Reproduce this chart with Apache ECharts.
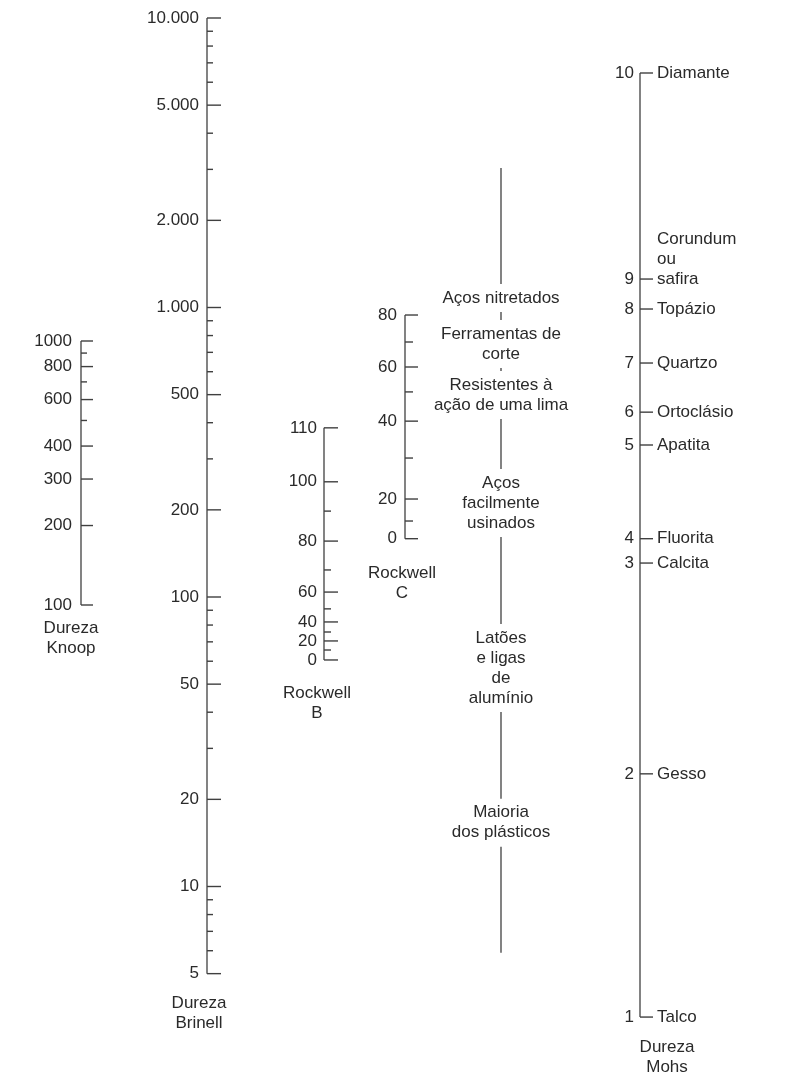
<!DOCTYPE html>
<html>
<head>
<meta charset="utf-8">
<script src="https://cdn.jsdelivr.net/npm/echarts@6/dist/echarts.min.js"></script>
<style>html,body{margin:0;padding:0;background:#fff}#c{width:792px;height:1075px}</style>
</head>
<body>
<div id="c"></div>
<script>
// ---------------- DATA ----------------
// Brinell (reference log scale)
const brinellMajor = [10000, 5000, 2000, 1000, 500, 200, 100, 50, 20, 10, 5];
const brinellMajorLabels = ['10.000', '5.000', '2.000', '1.000', '500', '200', '100', '50', '20', '10', '5'];
const brinellMinor = [9000, 8000, 7000, 6000, 4000, 3000, 900, 800, 700, 600, 400, 300, 90, 80, 70, 60, 40, 30, 9, 8, 7, 6];
const brinellExtent = [5, 10000];

// Knoop (own log scale)
const knoopMajor = [1000, 800, 600, 400, 300, 200, 100];
const knoopMinor = [900, 700, 500];
const knoopExtent = [100, 1000];

// Rockwell B: tick value and Brinell-equivalent position
const rockBMajor = [110, 100, 80, 60, 40, 20, 0];
const rockBMajorHB = [384, 250, 156, 104, 82, 70.5, 60.6];
const rockBMinor = [90, 70, 50, 30, 10];
const rockBMinorHB = [198, 124, 91, 75.7, 65.6];

// Rockwell C
const rockCMajor = [80, 60, 40, 20, 0];
const rockCMajorHB = [942, 623, 405, 218, 159];
const rockCMinor = [70, 50, 30, 10];
const rockCMinorHB = [760, 511, 302, 183];

// Mohs: value, mineral, Brinell-equivalent position
const mohsValues = [10, 9, 8, 7, 6, 5, 4, 3, 2, 1];
const mohsMinerals = ['Diamante', 'Corundum\nou\nsafira', 'Topázio', 'Quartzo', 'Ortoclásio', 'Apatita', 'Fluorita', 'Calcita', 'Gesso', 'Talco'];
const mohsHB = [6457, 1254, 988, 643, 435, 335, 159, 131, 24.5, 3.54];

// Materials (Brinell-equivalent positions)
const materialNames = ['Aços nitretados', 'Ferramentas de\ncorte', 'Resistentes à\nação de uma lima', 'Aços\nfacilmente\nusinados', 'Latões\ne ligas\nde\nalumínio', 'Maioria\ndos plásticos'];
const materialHB = [1078, 748, 499, 211, 56.9, 16.6];
const materialExtent = [5.9, 3034];

// ---------------- LAYOUT ----------------
const FONT = "'Liberation Sans', Arial, Helvetica, sans-serif";
const TXT = '#2a2a2a';
const LINE = '#404040';
const DEC = 289.5;       // px per decade of the shared Brinell scale
const TOP = 18;          // y of 10000
const AX_MIN = 3, AX_MAX = 10000;
const AX_H = Math.log10(AX_MAX / AX_MIN) * DEC;
const COLS = { brinell: 207, rockB: 324, rockC: 405, mat: 501, mohs: 640 };
const KNOOP = { left: 81, top: 341, height: 264 };

const grids = [], xAxes = [], yAxes = [], series = [];

function addGrid(left, top, height, yMin, yMax) {
  const i = grids.length;
  grids.push({ left: left, top: top, width: 60, height: height, containLabel: false });
  xAxes.push({ type: 'value', gridIndex: i, min: 0, max: 1, show: false });
  yAxes.push({ type: 'log', logBase: 10, gridIndex: i, min: yMin, max: yMax, show: false });
  return i;
}

function axisLine(gi, extent) {
  series.push({
    type: 'line', xAxisIndex: gi, yAxisIndex: gi, symbol: 'none', silent: true,
    data: [[0, extent[0]], [0, extent[1]]],
    lineStyle: { color: LINE, width: 1.3, opacity: 1 }, z: 1
  });
}

function ticks(gi, positions, len) {
  series.push({
    type: 'scatter', xAxisIndex: gi, yAxisIndex: gi, silent: true,
    symbol: 'rect', symbolSize: [len, 1.4], symbolOffset: [len / 2, 0],
    itemStyle: { color: LINE, opacity: 1 },
    data: positions.map(v => [0, v]), z: 2
  });
}

function labels(gi, positions, texts, pos, dist, extra) {
  series.push({
    type: 'scatter', xAxisIndex: gi, yAxisIndex: gi, silent: true,
    symbolSize: 0, itemStyle: { color: 'transparent', opacity: 1 },
    data: positions.map((v, k) => ({ value: [0, v], name: texts[k] })),
    label: Object.assign({
      show: true, position: pos, distance: dist, formatter: p => p.name,
      color: TXT, opacity: 1, fontFamily: FONT, fontSize: 17, lineHeight: 20
    }, extra || {}),
    z: 5
  });
}

// Knoop
const gK = addGrid(KNOOP.left, KNOOP.top, KNOOP.height, knoopExtent[0], knoopExtent[1]);
axisLine(gK, knoopExtent);
ticks(gK, knoopMajor, 12);
ticks(gK, knoopMinor, 6);
labels(gK, knoopMajor, knoopMajor.map(String), 'left', 9);

// Brinell
const gB = addGrid(COLS.brinell, TOP, AX_H, AX_MIN, AX_MAX);
axisLine(gB, brinellExtent);
ticks(gB, brinellMajor, 14);
ticks(gB, brinellMinor, 6);
labels(gB, brinellMajor, brinellMajorLabels, 'left', 8);

// Rockwell B
const gRB = addGrid(COLS.rockB, TOP, AX_H, AX_MIN, AX_MAX);
axisLine(gRB, [rockBMajorHB[rockBMajorHB.length - 1], rockBMajorHB[0]]);
ticks(gRB, rockBMajorHB, 14);
ticks(gRB, rockBMinorHB, 7);
labels(gRB, rockBMajorHB, rockBMajor.map(String), 'left', 7);

// Rockwell C
const gRC = addGrid(COLS.rockC, TOP, AX_H, AX_MIN, AX_MAX);
axisLine(gRC, [rockCMajorHB[rockCMajorHB.length - 1], rockCMajorHB[0]]);
ticks(gRC, rockCMajorHB, 13);
ticks(gRC, rockCMinorHB, 8);
labels(gRC, rockCMajorHB, rockCMajor.map(String), 'left', 8);

// Materials
const gM = addGrid(COLS.mat, TOP, AX_H, AX_MIN, AX_MAX);
axisLine(gM, materialExtent);
labels(gM, materialHB, materialNames, 'inside', 0, {
  align: 'center', verticalAlign: 'middle', backgroundColor: '#fff', padding: [4, 3]
});

// Mohs
const gMo = addGrid(COLS.mohs, TOP, AX_H, AX_MIN, AX_MAX);
axisLine(gMo, [mohsHB[mohsHB.length - 1], mohsHB[0]]);
ticks(gMo, mohsHB, 13);
labels(gMo, mohsHB, mohsValues.map(String), 'left', 6);
// mineral names (Corundum block sits above its tick)
series.push({
  type: 'scatter', xAxisIndex: gMo, yAxisIndex: gMo, silent: true,
  symbolSize: 0, itemStyle: { color: 'transparent', opacity: 1 },
  data: mohsHB.map((v, k) => ({
    value: [0, v], name: mohsMinerals[k],
    label: mohsMinerals[k].indexOf('\n') >= 0 ? { offset: [0, -20] } : undefined
  })),
  label: { show: true, position: 'right', distance: 17, formatter: p => p.name,
    color: TXT, opacity: 1, fontFamily: FONT, fontSize: 17, lineHeight: 20 },
  z: 5
});

// Axis titles
function title(x, y, text) {
  return { type: 'text', x: x, y: y, silent: true,
    style: { text: text, align: 'center', verticalAlign: 'top', fill: TXT,
      font: '17px ' + FONT, lineHeight: 20 } };
}
const graphics = [
  title(71, 618, 'Dureza\nKnoop'),
  title(199, 993, 'Dureza\nBrinell'),
  title(317, 683, 'Rockwell\nB'),
  title(402, 563, 'Rockwell\nC'),
  title(667, 1037, 'Dureza\nMohs')
];

const chart = echarts.init(document.getElementById('c'), null, { renderer: 'canvas' });
chart.setOption({
  animation: false,
  backgroundColor: '#fff',
  grid: grids, xAxis: xAxes, yAxis: yAxes, series: series,
  graphic: graphics
});
</script>
</body>
</html>
